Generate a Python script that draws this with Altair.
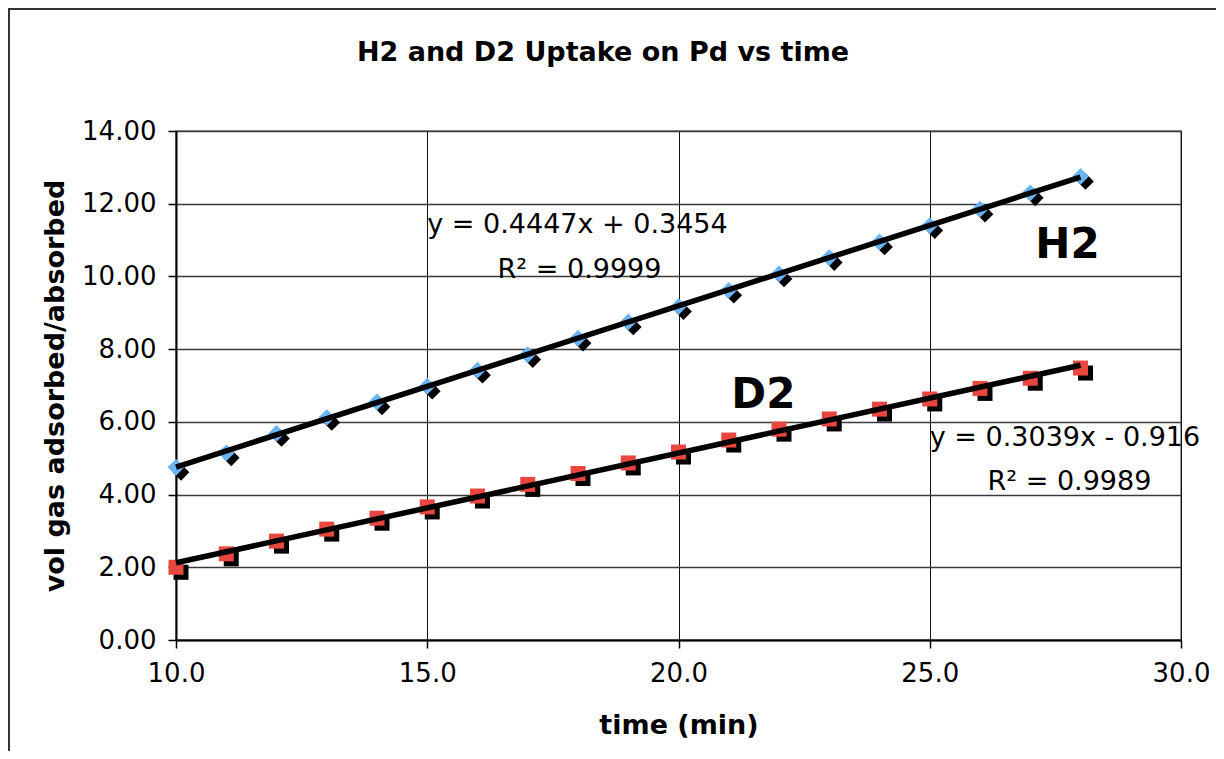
import altair as alt
import pandas as pd

# ---- data ----
time_min = [10, 11, 12, 13, 14, 15, 16, 17, 18, 19, 20, 21, 22, 23, 24, 25, 26, 27, 28]
h2_vol = [4.75, 5.15, 5.68, 6.12, 6.55, 6.98, 7.42, 7.85, 8.30, 8.75, 9.17,
          9.62, 10.07, 10.52, 10.95, 11.40, 11.85, 12.30, 12.75]
d2_vol = [2.00, 2.37, 2.72, 3.05, 3.35, 3.66, 3.96, 4.28, 4.58, 4.87, 5.17,
          5.50, 5.80, 6.08, 6.35, 6.63, 6.92, 7.20, 7.48]

x_ticks = [10, 15, 20, 25, 30]
y_ticks = [0, 2, 4, 6, 8, 10, 12, 14]

chart_title = ["H2 and D2 Uptake on Pd vs time"]

# annotation texts and their anchor (data coordinates)
note_text = ["y = 0.4447x + 0.3454", "R² = 0.9999", "y = 0.3039x - 0.916", "R² = 0.9989"]
note_x = [15.0, 16.4, 25.0, 26.15]
note_y = [11.41, 10.18, 5.56, 4.35]

big_text = ["H2", "D2"]
big_x = [27.1, 21.05]
big_y = [10.86, 6.74]

FONT = "DejaVu Sans"

df = pd.DataFrame({
    "t": time_min * 2,
    "v": h2_vol + d2_vol,
    "series": ["H2"] * len(time_min) + ["D2"] * len(time_min),
})
notes = pd.DataFrame({"txt": note_text, "x": note_x, "y": note_y})
bigs = pd.DataFrame({"txt": big_text, "x": big_x, "y": big_y})

xs = alt.Scale(domain=[10, 30], nice=False, zero=False)
ys = alt.Scale(domain=[0, 14], nice=False)

X = alt.X("t:Q", scale=xs, title="time (min)",
          axis=alt.Axis(values=x_ticks, format=".1f", grid=True, labelFlush=False))
Y = alt.Y("v:Q", scale=ys, title="vol gas adsorbed/absorbed",
          axis=alt.Axis(values=y_ticks, format=".2f", grid=True, labelFlush=False))

base = alt.Chart(df)

h2 = base.transform_filter(alt.datum.series == "H2")
d2 = base.transform_filter(alt.datum.series == "D2")

h2_shadow = h2.mark_point(shape="diamond", filled=True, size=280, color="black",
                          opacity=1, xOffset=5, yOffset=5).encode(x=X, y=Y)
h2_pts = h2.mark_point(shape="diamond", filled=True, size=280, color="#6AB4F8",
                       opacity=1).encode(x=X, y=Y)
d2_shadow = d2.mark_point(shape="square", filled=True, size=225, color="black",
                          opacity=1, xOffset=5, yOffset=5).encode(x=X, y=Y)
d2_pts = d2.mark_point(shape="square", filled=True, size=225, color="#E8463E",
                       opacity=1).encode(x=X, y=Y)

trend = base.transform_regression("t", "v", groupby=["series"]).mark_line(
    color="black", strokeWidth=5.5).encode(x=X, y=Y, detail="series:N")

note_layer = alt.Chart(notes).mark_text(
    align="left", baseline="middle", font=FONT, fontSize=27, color="black"
).encode(x=alt.X("x:Q", scale=xs), y=alt.Y("y:Q", scale=ys), text="txt:N")

big_layer = alt.Chart(bigs).mark_text(
    align="left", baseline="middle", font=FONT, fontSize=42, fontWeight="bold",
    color="black"
).encode(x=alt.X("x:Q", scale=xs), y=alt.Y("y:Q", scale=ys), text="txt:N")

title_layer = alt.Chart(pd.DataFrame({"txt": chart_title})).mark_text(
    align="center", baseline="middle", font=FONT, fontSize=27, fontWeight="bold",
    color="black", clip=False
).encode(x=alt.value(427), y=alt.value(-78), text="txt:N")

border = alt.Chart(pd.DataFrame({"k": [0]})).mark_rect(
    fill=None, stroke="#333333", strokeWidth=2, clip=False
).encode(x=alt.value(-167), x2=alt.value(1200), y=alt.value(-122), y2=alt.value(900))

chart = alt.layer(
    border, h2_shadow, h2_pts, d2_shadow, d2_pts, trend, note_layer, big_layer,
    title_layer
).properties(
    width=1005,
    height=509,
    autosize=alt.AutoSizeParams(type="none"),
    padding={"left": 168, "top": 123, "right": 35, "bottom": 111},
).configure_view(
    stroke="#9a9a9a", strokeWidth=2
).configure_axis(
    labelFont=FONT, labelFontSize=26, labelColor="black",
    titleFont=FONT, titleFontSize=27, titleFontWeight="bold", titleColor="black",
    domainColor="black", domainWidth=2,
    tickColor="black", tickSize=8, tickWidth=1.5,
    gridColor="#3a3a3a", gridWidth=1.3,
).configure_axisY(
    labelPadding=12, titlePadding=12,
).configure_axisX(
    labelPadding=12, titlePadding=26, gridColor="#111111", gridWidth=1,
)

chart.save("out.html", embed_options={"renderer": "svg", "actions": False})
